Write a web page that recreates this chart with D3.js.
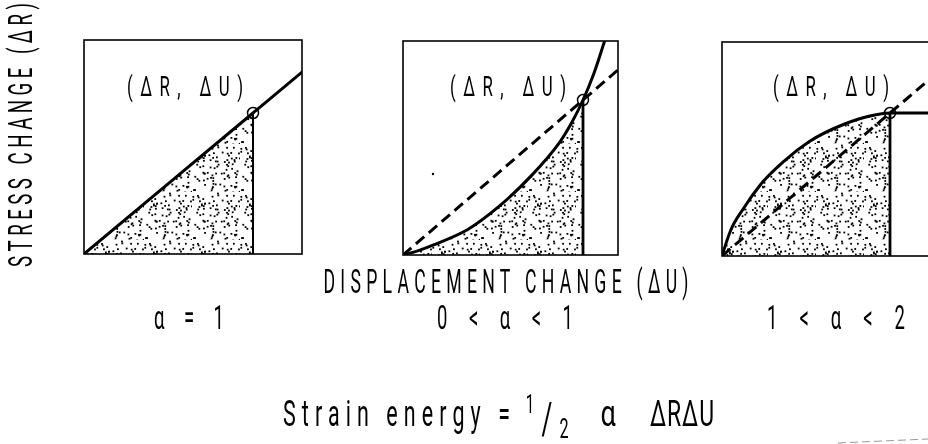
<!DOCTYPE html>
<html>
<head>
<meta charset="utf-8">
<script src="https://cdn.jsdelivr.net/npm/d3@7"></script>
<style>
  body { margin: 0; background: #fff; }
  svg { display: block; }
  text { font-family: "Roboto", "Liberation Sans", sans-serif; font-weight: 400; fill: #000; }
</style>
</head>
<body>
<svg id="chart"></svg>
<script>
// one panel per alpha case
const caseLabels = ["α = 1", "0 < α < 1", "1 < α < 2"];
const pointLabel = "(ΔR, ΔU)";
const yTitle = "STRESS CHANGE (ΔR)";
const xTitle = "DISPLACEMENT CHANGE (ΔU)";

// load paths, in units of the marked point (ΔU = 1, ΔR = 1)
const linearU = [0, 1, 1.3];
const linearR = [0, 1, 1.3];
const softU = [0, 0.09, 0.17, 0.36, 0.54, 0.72, 0.86, 0.94, 1, 1.06, 1.12, 1.16];
const softR = [0, 0.03, 0.065, 0.165, 0.32, 0.52, 0.71, 0.86, 1, 1.17, 1.38, 1.52];
const stiffU = [0, 0.05, 0.13, 0.23, 0.37, 0.52, 0.73, 0.88, 1, 1.3];
const stiffR = [0, 0.175, 0.336, 0.5, 0.664, 0.8, 0.923, 0.979, 1, 1];
// dashed secant through the origin and the marked point
const secantU = [0, 1.3];
const secantR = [0, 1.3];

const curves = [
  { u: linearU, r: linearR, secant: false },
  { u: softU, r: softR, secant: true },
  { u: stiffU, r: stiffR, secant: true }
];

const width = 928, height = 444;
const svg = d3.select("#chart").attr("width", width).attr("height", height);

// panel frames (pixels) and the pixel size of one unit
const frames = [
  { x0: 84, top: 40, right: 302, bottom: 254, ux: 169, uy: 141, labelX: 185 },
  { x0: 403, top: 41, right: 618, bottom: 255, ux: 180, uy: 155, labelX: 508 },
  { x0: 722, top: 42, right: 938, bottom: 256, ux: 168, uy: 143, labelX: 831 }
];
const caseX = [189, 505, 836];
const caseW = [70, 136, 138];

const defs = svg.append("defs");

// stipple texture for the strain energy area
const lcg = d3.randomLcg(0.4217);
const dots = d3.range(95).map(() => [lcg() * 48, lcg() * 48]);
const pat = defs.append("pattern")
  .attr("id", "stipple")
  .attr("patternUnits", "userSpaceOnUse")
  .attr("width", 48).attr("height", 48);
pat.selectAll("rect").data(dots).enter().append("rect")
  .attr("x", d => d[0]).attr("y", d => d[1])
  .attr("width", 1.8).attr("height", 1.8)
  .attr("fill", "#000");

const marks = svg.append("g");
const labels = svg.append("g").attr("opacity", 0.995);

function squeezed(g, str, x, y, size, sx, len, anchor, rot) {
  const t = g.append("text")
    .attr("transform", `translate(${x},${y})${rot ? " rotate(-90)" : ""} scale(${sx},1)`)
    .attr("text-anchor", anchor || "middle")
    .attr("font-size", size)
    .text(str);
  if (len) t.attr("textLength", len / sx).attr("lengthAdjust", "spacing");
  return t;
}

frames.forEach((f, i) => {
  const c = curves[i];
  const x = d3.scaleLinear().domain([0, 1]).range([f.x0, f.x0 + f.ux]);
  const y = d3.scaleLinear().domain([0, 1]).range([f.bottom, f.bottom - f.uy]);
  const pts = c.u.map((u, k) => [u, c.r[k]]);

  defs.append("clipPath").attr("id", "clip" + i)
    .append("rect")
    .attr("x", f.x0).attr("y", f.top)
    .attr("width", f.right - f.x0).attr("height", f.bottom - f.top);

  const g = marks.append("g").attr("clip-path", `url(#clip${i})`);
  const shape = i === 2 ? d3.curveMonotoneX : d3.curveCatmullRom.alpha(0.5);

  const area = d3.area()
    .x(d => x(d[0])).y0(y(0)).y1(d => y(d[1]))
    .curve(shape);
  g.append("path")
    .datum(pts.filter(d => d[0] <= 1))
    .attr("d", area)
    .attr("fill", "url(#stipple)");

  const line = d3.line().x(d => x(d[0])).y(d => y(d[1])).curve(shape);

  if (c.secant) {
    g.append("path")
      .datum(secantU.map((u, k) => [u, secantR[k]]))
      .attr("d", d3.line().x(d => x(d[0])).y(d => y(d[1])))
      .attr("fill", "none").attr("stroke", "#000")
      .attr("stroke-width", 3).attr("stroke-dasharray", "11,6");
  }

  g.append("path")
    .datum(pts)
    .attr("d", line)
    .attr("fill", "none").attr("stroke", "#000")
    .attr("stroke-width", 3);

  // drop line from the marked point
  g.append("line")
    .attr("x1", x(1)).attr("x2", x(1))
    .attr("y1", y(1)).attr("y2", y(0))
    .attr("stroke", "#000").attr("stroke-width", i === 0 ? 2 : 2.8);

  marks.append("circle")
    .attr("cx", x(1)).attr("cy", y(1)).attr("r", 5.5)
    .attr("fill", "none").attr("stroke", "#000").attr("stroke-width", 1.5);

  marks.append("rect")
    .attr("x", f.x0).attr("y", f.top)
    .attr("width", f.right - f.x0).attr("height", f.bottom - f.top)
    .attr("fill", "none").attr("stroke", "#000").attr("stroke-width", 1.6);

  squeezed(labels, pointLabel, f.labelX, 96, 28, 0.6, 116);
  squeezed(labels, caseLabels[i], caseX[i], 329, 33, 0.56, caseW[i]);
});

// stray speck and scan edge from the source figure
marks.append("circle").attr("cx", 433).attr("cy", 174).attr("r", 1.2).attr("fill", "#000");
marks.append("line")
  .attr("x1", 838).attr("y1", 443).attr("x2", 928).attr("y2", 439)
  .attr("stroke", "#999").attr("stroke-width", 1).attr("stroke-dasharray", "8,4");

squeezed(labels, yTitle, 32, 135, 34, 0.55, 264, "middle", true);
squeezed(labels, xTitle, 506, 293, 34, 0.52, 365);

// strain energy formula
squeezed(labels, "Strain energy =", 283, 426, 37, 0.58, 227, "start");
squeezed(labels, "1", 530, 413, 25, 0.6);
squeezed(labels, "/", 547, 434, 44, 0.6);
squeezed(labels, "2", 564, 438, 27, 0.6);
squeezed(labels, "α", 608, 426, 36, 0.75);
squeezed(labels, "ΔRΔU", 650, 426, 37, 0.62, 64, "start");
</script>
</body>
</html>
